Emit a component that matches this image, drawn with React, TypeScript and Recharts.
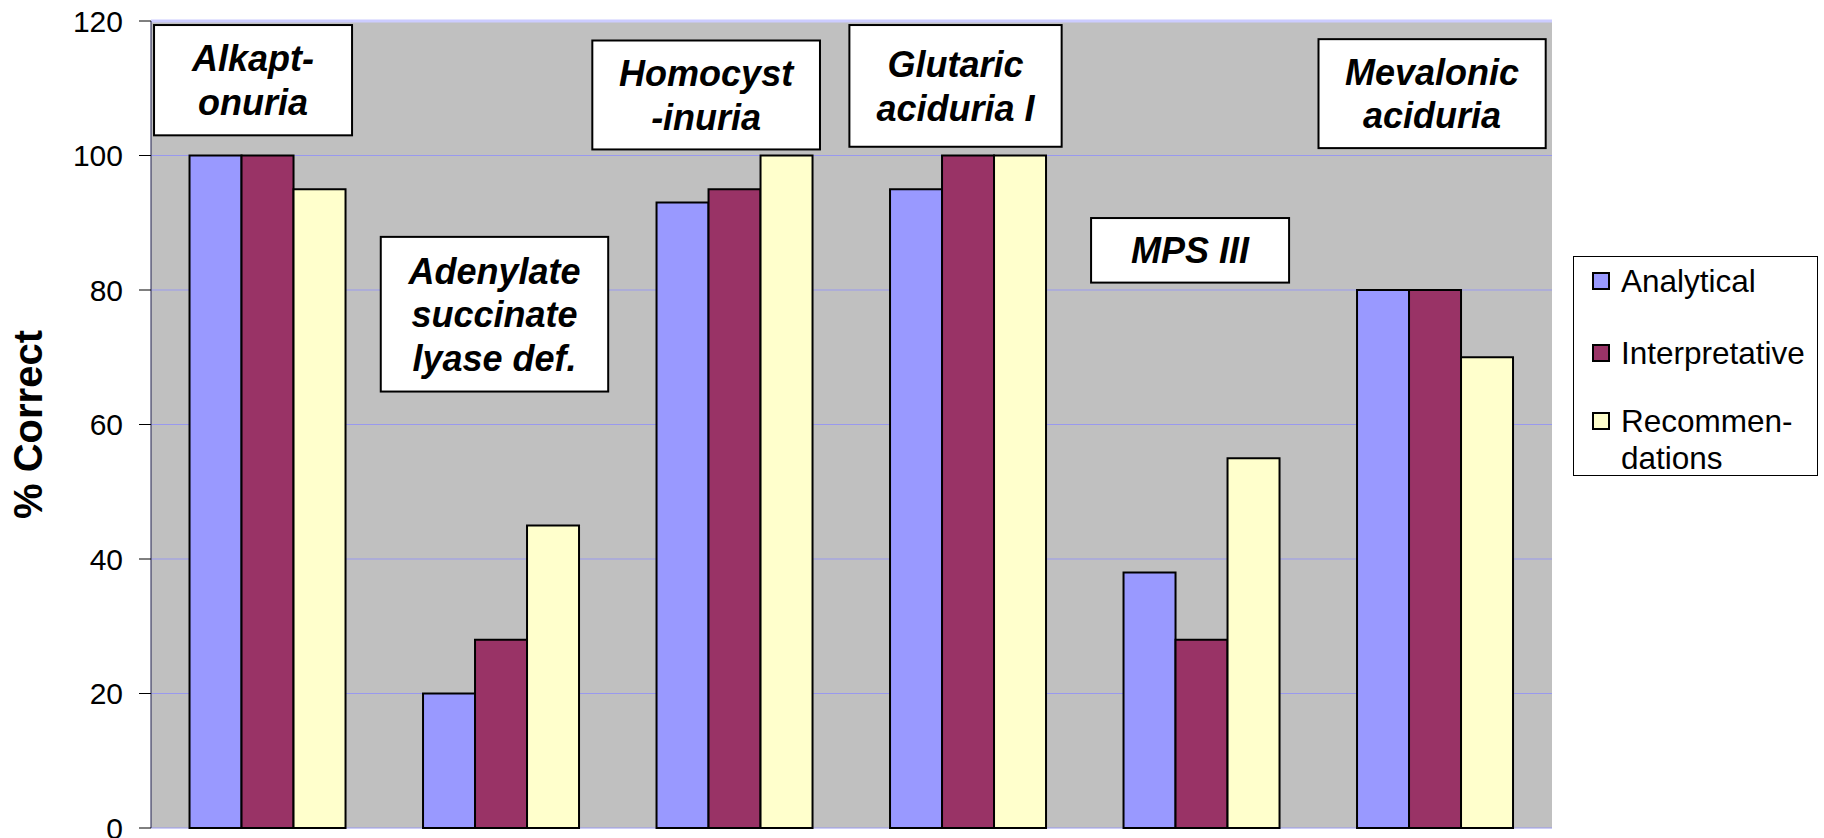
import React from 'react';
import {
  BarChart,
  Bar,
  XAxis,
  YAxis,
  CartesianGrid,
  Legend,
  ReferenceArea,
  ReferenceLine,
  Label
} from 'recharts';

document.body.style.margin = '0';

const categories = [
  'Alkaptonuria',
  'Adenylate succinate lyase def.',
  'Homocystinuria',
  'Glutaric aciduria I',
  'MPS III',
  'Mevalonic aciduria'
];
const analytical = [100, 20, 93, 95, 38, 80];
const interpretative = [100, 28, 95, 100, 28, 80];
const recommendations = [95, 45, 100, 100, 55, 70];

const seriesNames = ['Analytical', 'Interpretative', 'Recommendations'];
const legendLabels = [['Analytical'], ['Interpretative'], ['Recommen-', 'dations']];
const noteLines = [
  ['Alkapt-', 'onuria'],
  ['Adenylate', 'succinate', 'lyase def.'],
  ['Homocyst', '-inuria'],
  ['Glutaric', 'aciduria I'],
  ['MPS III'],
  ['Mevalonic', 'aciduria']
];
const yTicks = [0, 20, 40, 60, 80, 100, 120];
const edgeTicks = [0, 1, 2, 3, 4, 5, 6];

// box placement of the disease labels (y in axis units, x as fraction of the band)
const noteBoxes = [
  { y1: 103, y2: 119.4, left: 0.013, right: 0.861 },
  { y1: 64.9, y2: 87.9, left: -0.016, right: 0.958 },
  { y1: 100.9, y2: 117.1, left: -0.11, right: 0.865 },
  { y1: 101.3, y2: 119.4, left: -0.009, right: 0.9 },
  { y1: 81.1, y2: 90.7, left: 0.026, right: 0.874 },
  { y1: 101.1, y2: 117.3, left: 0, right: 0.973 }
];

const colors = ['#9999FF', '#993366', '#FFFFCC'];
const FONT = "'Liberation Sans', Arial, sans-serif";

const data = categories.map((name, i) => ({
  name,
  analytical: analytical[i],
  interpretative: interpretative[i],
  recommendations: recommendations[i]
}));

const NoteBox = (props: any) => {
  const { x, y, width, height, lines, box } = props;
  const bx = x + width * box.left;
  const bw = width * (box.right - box.left);
  const cy = y + height / 2;
  const lh = 43.5;
  return (
    <g>
      <rect x={bx} y={y} width={bw} height={height} fill="#fff" stroke="#000" strokeWidth={2} />
      {lines.map((t: string, i: number) => (
        <text
          key={i}
          x={bx + bw / 2}
          y={cy + (i - (lines.length - 1) / 2) * lh + 13}
          textAnchor="middle"
          fontFamily={FONT}
          fontSize={36}
          fontWeight="bold"
          fontStyle="italic"
          fill="#000"
        >
          {t}
        </text>
      ))}
    </g>
  );
};

const LegendBox = () => (
  <div
    style={{
      border: '1px solid #000',
      background: '#fff',
      boxSizing: 'border-box',
      width: 245,
      height: 220,
      padding: '6px 0 0 18px',
      fontFamily: FONT,
      fontSize: 31.5,
      lineHeight: '37px',
      color: '#000'
    }}
  >
    {legendLabels.map((lines, i) => (
      <div key={i} style={{ display: 'flex', alignItems: 'flex-start', marginBottom: i === 0 ? 35 : 31 }}>
        <div
          style={{
            width: 18,
            height: 18,
            marginTop: 9,
            marginRight: 11,
            background: colors[i],
            border: '2px solid #000',
            boxSizing: 'border-box',
            flexShrink: 0
          }}
        />
        <div>
          {lines.map((l, j) => (
            <div key={j}>{l}</div>
          ))}
        </div>
      </div>
    ))}
  </div>
);

const YLabel = (props: any) => {
  const { viewBox } = props;
  const cx = viewBox.x + 28;
  const cy = viewBox.y + viewBox.height / 2;
  return (
    <text
      x={cx}
      y={cy}
      transform={`rotate(-90, ${cx}, ${cy})`}
      textAnchor="middle"
      dominantBaseline="central"
      fontFamily={FONT}
      fontSize={40}
      fontWeight="bold"
      fill="#000"
    >
      % Correct
    </text>
  );
};

const App: React.FC = () => {
  return (
    <div style={{ fontFamily: FONT, width: 1824, height: 838, background: '#fff' }}>
      <BarChart
        width={1824}
        height={838}
        data={data}
        margin={{ top: 21, right: 272, left: 0, bottom: 0 }}
        barCategoryGap="16.5%"
        barGap={0}
      >
        <CartesianGrid vertical={false} fill="#C0C0C0" stroke="#9999EE" />
        <XAxis dataKey="name" hide />
        <XAxis
          xAxisId="edges"
          type="number"
          domain={[0, 6]}
          ticks={edgeTicks}
          allowDataOverflow
          tickFormatter={() => ''}
          tickSize={10}
          height={10}
          axisLine={{ stroke: '#202040' }}
          tickLine={{ stroke: '#000' }}
        />
        <YAxis
          domain={[0, 120]}
          ticks={yTicks}
          interval={0}
          width={151}
          tickSize={12}
          tickMargin={16}
          axisLine={{ stroke: '#202050' }}
          tickLine={{ stroke: '#000' }}
          tick={{ fontSize: 30, fill: '#000', fontFamily: FONT }}
        >
          <Label content={<YLabel />} />
        </YAxis>
        <ReferenceLine y={120} stroke="#CCCCFF" strokeWidth={3} />
        <ReferenceLine x={6} xAxisId="edges" stroke="#CCCCFF" strokeWidth={3} />
        <Bar dataKey="analytical" name={seriesNames[0]} fill={colors[0]} stroke="#000" strokeWidth={2} isAnimationActive={false} />
        <Bar dataKey="interpretative" name={seriesNames[1]} fill={colors[1]} stroke="#000" strokeWidth={2} isAnimationActive={false} />
        <Bar dataKey="recommendations" name={seriesNames[2]} fill={colors[2]} stroke="#000" strokeWidth={2} isAnimationActive={false} />
        {noteBoxes.map((box, i) => (
          <ReferenceArea
            key={i}
            x1={categories[i]}
            x2={categories[i]}
            y1={box.y1}
            y2={box.y2}
            ifOverflow="visible"
            shape={(p: any) => <NoteBox {...p} lines={noteLines[i]} box={box} />}
          />
        ))}
        <Legend
          layout="horizontal"
          align="center"
          verticalAlign="middle"
          wrapperStyle={{ left: 1573, top: 256, width: 245, height: 220 }}
          content={<LegendBox />}
        />
      </BarChart>
    </div>
  );
};

export default App;
